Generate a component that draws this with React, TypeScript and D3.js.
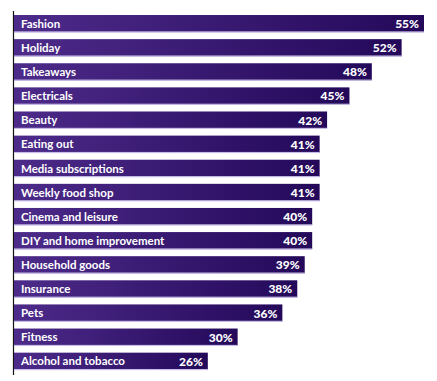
import React from "react";
import * as d3 from "d3";

const categories = [
  "Fashion",
  "Holiday",
  "Takeaways",
  "Electricals",
  "Beauty",
  "Eating out",
  "Media subscriptions",
  "Weekly food shop",
  "Cinema and leisure",
  "DIY and home improvement",
  "Household goods",
  "Insurance",
  "Pets",
  "Fitness",
  "Alcohol and tobacco",
];
const values = [55, 52, 48, 45, 42, 41, 41, 41, 40, 40, 39, 38, 36, 30, 26];

const W = 437;
const H = 381;

export default function App() {
  const x = d3.scaleLinear().domain([0, 55]).range([14, 424]);
  const y = d3
    .scaleBand()
    .domain(categories)
    .range([11.4, 373.4])
    .paddingInner(0.29)
    .paddingOuter(0.15);
  const bh = y.bandwidth();
  return (
    <svg
      width={W}
      height={H}
      style={{ position: "absolute", left: 0, top: 0, background: "#fff" }}
    >
      <defs>
        <linearGradient id="barGrad" x1="0" x2="1" y1="0" y2="0">
          <stop offset="0%" stopColor="#4d2b8a" />
          <stop offset="100%" stopColor="#24095a" />
        </linearGradient>
      </defs>
      <line x1={13.5} x2={13.5} y1={11} y2={375} stroke="#111" strokeWidth={1.2} />
      {categories.map((c, i) => {
        const y0 = y(c) as number;
        const x1 = x(values[i]);
        return (
          <g key={c}>
            <rect x={x(0)} y={y0} width={x1 - x(0)} height={bh} fill="url(#barGrad)" />
            <rect x={x(0)} y={y0 + bh - 0.8} width={x1 - x(0)} height={1.2} fill="#c7bde6" />
            <text
              x={21}
              y={y0 + bh / 2}
              dy="0.37em"
              fill="#fff"
              fontFamily="Lato, 'Open Sans', sans-serif"
              fontSize={11.5}
              fontWeight={700}
            >
              {c}
            </text>
            <text
              x={x1 - 5}
              y={y0 + bh / 2}
              dy="0.38em"
              textAnchor="end"
              fill="#fff"
              fontFamily="Lato, 'Open Sans', sans-serif"
              fontSize={12}
              fontWeight={900}
            >
              {values[i]}%
            </text>
          </g>
        );
      })}
    </svg>
  );
}
